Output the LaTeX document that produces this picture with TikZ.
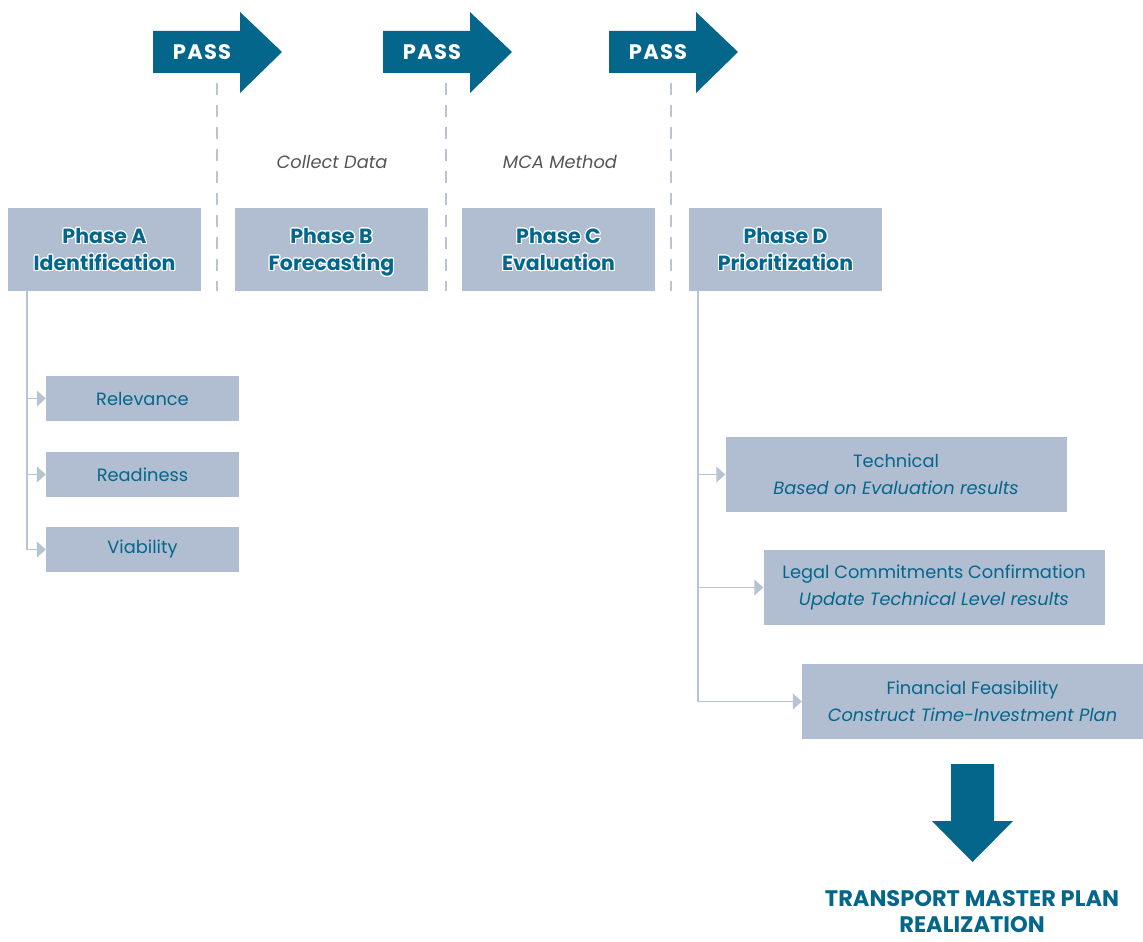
\documentclass[tikz,border=0pt]{standalone}
\usepackage{fontspec}
\setmainfont{Poppins}
\newfontfamily\passfont[LetterSpace=6]{Poppins}
\usepackage[copies]{contour}
\usepackage{tikz}
\usetikzlibrary{positioning,arrows.meta}
\definecolor{DeepBlue}{HTML}{05668B}
\definecolor{BoxGrey}{HTML}{B1BDD0}
\definecolor{LineGrey}{HTML}{B8C3D3}
\definecolor{NoteGrey}{HTML}{555555}
\contourlength{1.1pt}
\newcommand{\phasetext}[2]{\contour{white}{#1}\\\raisebox{0pt}[\height][0pt]{\contour{white}{#2}}}

\begin{document}
\begin{tikzpicture}[
    x=1pt, y=-1pt,
    phase/.style={fill=BoxGrey, minimum width=193pt, minimum height=83pt, inner sep=0pt,
      align=center, text=DeepBlue, font=\fontsize{20.5}{27}\selectfont\bfseries},
    crit/.style={fill=BoxGrey, minimum width=193pt, minimum height=45pt, inner sep=0pt,
      align=center, text=DeepBlue, font=\fontsize{17.8}{27}\selectfont},
    task/.style={fill=BoxGrey, minimum width=341pt, minimum height=75pt, inner sep=0pt,
      align=center, text=DeepBlue, font=\fontsize{17.8}{27}\selectfont},
    note/.style={text=NoteGrey, font=\fontsize{17.8}{20}\selectfont\itshape},
    sep/.style={draw=LineGrey, line width=2.5pt, dash pattern=on 12pt off 10pt},
    branch/.style={draw=LineGrey, line width=1.5pt},
    arr/.style={branch, -{Triangle[length=9pt, width=16pt]}}
  ]
    \useasboundingbox (0,0) rectangle (1143,942);

    % pass arrows
    \foreach \x/\n in {153/pa,383/pb,609/pc}{
      \fill[DeepBlue] (\x,31) -- (\x+87,31) -- (\x+87,12) -- (\x+129,52)
        -- (\x+87,93) -- (\x+87,73) -- (\x,73) -- cycle;
      \node[text=white, font=\fontsize{21}{22}\selectfont\passfont\bfseries] (\n) at (\x+49,52) {PASS};
    }

    % separators
    \foreach \x in {217,446,671}
      \draw[sep] (\x,83) -- (\x,291);

    \node[note] (collect) at (332,162) {Collect Data};
    \node[note] (mca) at (560,162) {MCA Method};

    \node[phase] (pha) at (104.5,249.5) {\phasetext{Phase A}{Identification}};
    \node[phase] (phb) at (331.5,249.5) {\phasetext{Phase B}{Forecasting}};
    \node[phase] (phc) at (558.5,249.5) {\phasetext{Phase C}{Evaluation}};
    \node[phase] (phd) at (785.5,249.5) {\phasetext{Phase D}{Prioritization}};

    \node[crit] (rel) at (142.5,398.5) {Relevance};
    \node[crit] (rdy) at (142.5,474.5) {Readiness};
    \node[crit] (via) at (142.5,549.5) {Viability};

    \node[task] (tec) at (896,474.5) {Technical\\\textit{Based on Evaluation results}};
    \node[task] (leg) at (934,587.5) {Legal Commitments Confirmation\\\textit{Update Technical Level results}};
    \node[task] (fin) at (972.5,701.5) {Financial Feasibility\\\textit{Construct Time-Investment Plan}};

    % phase A tree
    \coordinate (ta) at (27,291);
    \draw[branch] (ta) -- (ta |- via);
    \foreach \b in {rel,rdy,via}
      \draw[arr] (ta |- \b) -- (\b.west);

    % phase D tree
    \coordinate (td) at (698,291);
    \draw[branch] (td) -- (td |- fin);
    \foreach \b in {tec,leg,fin}
      \draw[arr] (td |- \b) -- (\b.west);

    % realization
    \fill[DeepBlue] (951,764) -- (994,764) -- (994,821) -- (1013,821) -- (972.5,862)
      -- (932,821) -- (951,821) -- cycle;
    \node[text=DeepBlue, align=center, inner sep=0pt, font=\fontsize{22.5}{26}\selectfont\bfseries] (tmp) at (972,912)
      {TRANSPORT MASTER PLAN\\REALIZATION};
  \end{tikzpicture}
\end{document}
